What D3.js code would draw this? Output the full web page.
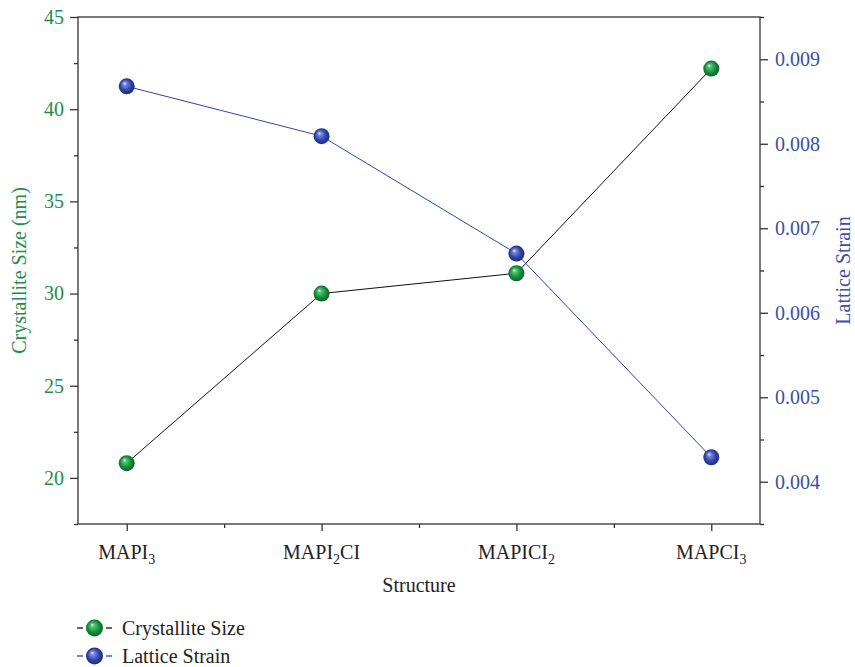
<!DOCTYPE html>
<html><head><meta charset="utf-8">
<script src="https://cdn.jsdelivr.net/npm/d3@7"></script>
<style>body{margin:0;background:#fff}svg{display:block}text{font-family:"Liberation Serif","Times New Roman",serif}</style>
</head><body>
<svg id="c" width="855" height="667"></svg>
<script>
const categories = [["MAPI","3",""],["MAPI","2","CI"],["MAPICI","2",""],["MAPCI","3",""]];
const crystalliteSize = [20.8, 30.0, 31.1, 42.2];
const latticeStrain = [0.00868, 0.00809, 0.0067, 0.00429];
const leftTicks = [20, 25, 30, 35, 40, 45];
const leftMinor = [17.5, 22.5, 27.5, 32.5, 37.5, 42.5];
const rightTicks = [0.004, 0.005, 0.006, 0.007, 0.008, 0.009];
const rightMinor = [0.0035, 0.0045, 0.0055, 0.0065, 0.0075, 0.0085, 0.0095];

const svg = d3.select("#c");
const L = 78, R = 760, T = 17, B = 524;
const green = "#1e8c50", blue = "#3a50a6", axisCol = "#333";
const FS = 20;
const FF = '"Liberation Serif", "Times New Roman", serif';

const x = d3.scaleLinear().domain([-0.25, 3.25]).range([L, R]);
const yL = d3.scaleLinear().domain([17.5, 45]).range([B, T]);
const yR = d3.scaleLinear().domain([0.0035, 0.0095]).range([B, T]);

const defs = svg.append("defs");
function grad(id, light, mid, dark) {
  const g = defs.append("radialGradient").attr("id", id).attr("cx", "50%").attr("cy", "50%").attr("r", "55%").attr("fx", "35%").attr("fy", "30%");
  g.append("stop").attr("offset", "0%").attr("stop-color", "#ffffff");
  g.append("stop").attr("offset", "18%").attr("stop-color", light);
  g.append("stop").attr("offset", "60%").attr("stop-color", mid);
  g.append("stop").attr("offset", "100%").attr("stop-color", dark);
}
grad("gG", "#5cc77a", "#14903c", "#0b5a22");
grad("gB", "#7c8ee0", "#2f45a8", "#1b2870");

// frame
svg.append("rect").attr("x", L).attr("y", T).attr("width", R - L).attr("height", B - T)
  .attr("fill", "none").attr("stroke", axisCol).attr("stroke-width", 1.3);

function styleAxis(g, col) {
  g.select(".domain").remove();
  g.attr("font-family", null).attr("font-size", null);
  g.selectAll("line").attr("stroke", axisCol).attr("stroke-width", 1.3);
  g.selectAll("text").attr("fill", col).style("font-size", FS + "px").style("font-family", FF);
}
// left axis
svg.append("g").attr("transform", `translate(${L},0)`)
  .call(d3.axisLeft(yL).tickValues(leftTicks).tickSize(8).tickPadding(6).tickFormat(d3.format("d")))
  .call(g => styleAxis(g, green));
svg.append("g").attr("transform", `translate(${L},0)`)
  .call(d3.axisLeft(yL).tickValues(leftMinor).tickSize(4).tickFormat(""))
  .call(g => styleAxis(g, green));
// right axis
svg.append("g").attr("transform", `translate(${R},0)`)
  .call(d3.axisRight(yR).tickValues(rightTicks).tickSize(8).tickPadding(7).tickFormat(d3.format(".3f")))
  .call(g => styleAxis(g, blue));
svg.append("g").attr("transform", `translate(${R},0)`)
  .call(d3.axisRight(yR).tickValues(rightMinor).tickSize(4).tickFormat(""))
  .call(g => styleAxis(g, blue));
// bottom axis
svg.append("g").attr("transform", `translate(0,${B})`)
  .call(d3.axisBottom(x).tickValues(d3.range(categories.length)).tickSize(7).tickFormat(""))
  .call(g => styleAxis(g, "#222"));
svg.append("g").attr("transform", `translate(0,${B})`)
  .call(d3.axisBottom(x).tickValues([0.5, 1.5, 2.5]).tickSize(4).tickFormat(""))
  .call(g => styleAxis(g, "#222"));

categories.forEach((c, i) => {
  const t = svg.append("text").attr("x", x(i)).attr("y", 559).attr("text-anchor", "middle")
    .attr("font-size", FS).attr("fill", "#222");
  t.append("tspan").text(c[0]);
  t.append("tspan").attr("font-size", 14).attr("dy", 5).text(c[1]);
  if (c[2]) t.append("tspan").attr("dy", -5).text(c[2]);
});

// titles
svg.append("text").attr("x", x(1.5)).attr("y", 592).attr("text-anchor", "middle")
  .attr("font-size", FS).attr("fill", "#222").text("Structure");
svg.append("text").attr("transform", `translate(26,${(T + B) / 2}) rotate(-90)`).attr("text-anchor", "middle")
  .attr("font-size", FS).attr("fill", green).text("Crystallite Size (nm)");
svg.append("text").attr("transform", `translate(850,${(T + B) / 2}) rotate(-90)`).attr("text-anchor", "middle")
  .attr("font-size", FS).attr("fill", blue).text("Lattice Strain");

// lines
const lineC = d3.line().x((d, i) => x(i)).y(d => yL(d));
const lineS = d3.line().x((d, i) => x(i)).y(d => yR(d));
svg.append("path").attr("d", lineC(crystalliteSize)).attr("fill", "none").attr("stroke", "#111").attr("stroke-width", 1);
svg.append("path").attr("d", lineS(latticeStrain)).attr("fill", "none").attr("stroke", "#2f45a8").attr("stroke-width", 1);

svg.append("g").selectAll("circle").data(crystalliteSize).join("circle")
  .attr("cx", (d, i) => x(i)).attr("cy", d => yL(d)).attr("r", 8).attr("fill", "url(#gG)");
svg.append("g").selectAll("circle").data(latticeStrain).join("circle")
  .attr("cx", (d, i) => x(i)).attr("cy", d => yR(d)).attr("r", 8).attr("fill", "url(#gB)");

// legend
const legend = [["Crystallite Size", "#111", "url(#gG)"], ["Lattice Strain", "#2f45a8", "url(#gB)"]];
legend.forEach((l, i) => {
  const y0 = 628 + i * 28;
  svg.append("line").attr("x1", 77).attr("x2", 83).attr("y1", y0).attr("y2", y0).attr("stroke", l[1]).attr("stroke-width", 1.3);
  svg.append("line").attr("x1", 106).attr("x2", 112).attr("y1", y0).attr("y2", y0).attr("stroke", l[1]).attr("stroke-width", 1.3);
  svg.append("circle").attr("cx", 94.5).attr("cy", y0).attr("r", 8.5).attr("fill", l[2]);
  svg.append("text").attr("x", 122).attr("y", y0 + 7).attr("font-size", FS).attr("fill", "#222").text(l[0]);
});
</script>
</body></html>
